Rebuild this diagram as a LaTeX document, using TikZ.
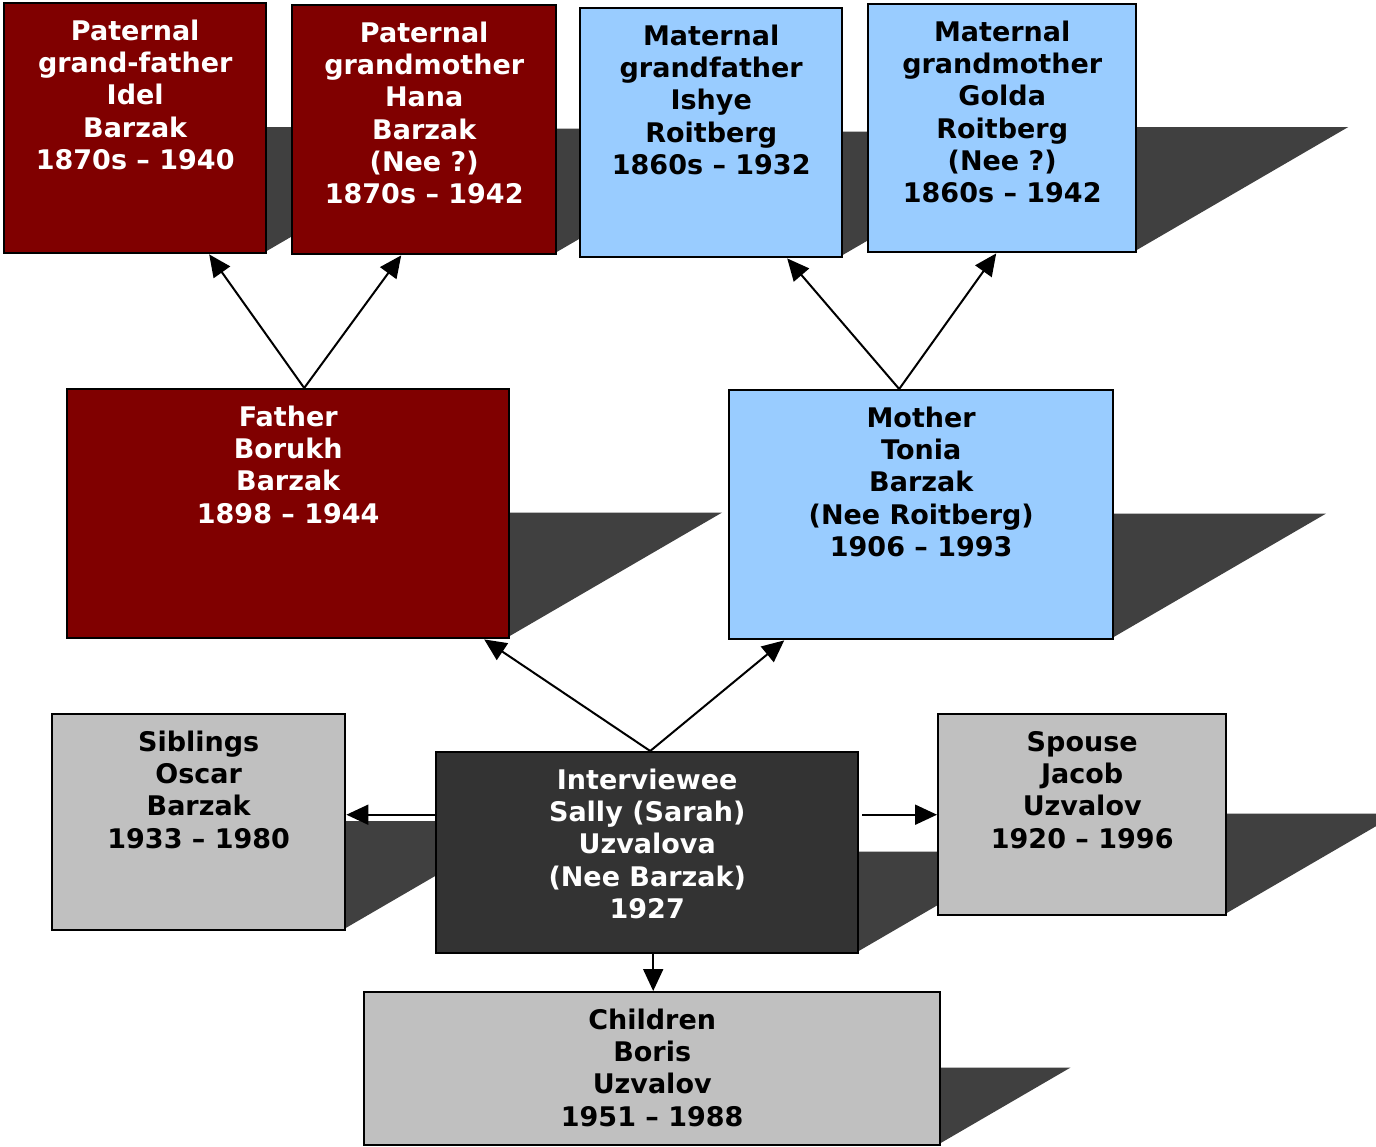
\documentclass[tikz,border=0pt]{standalone}
\usepackage{fontspec}
\setmainfont{DejaVu Sans}
\usetikzlibrary{arrows.meta,calc}
\pgfdeclarelayer{bg}
\pgfsetlayers{bg,main}
\definecolor{dred}{HTML}{800000}
\definecolor{lblue}{HTML}{99CCFF}
\definecolor{lgray}{HTML}{C0C0C0}
\definecolor{dgray}{HTML}{333333}
\definecolor{shadowc}{HTML}{404040}
\tikzset{
  famcard/.style={draw=black, line width=2.4pt, inner sep=0pt, anchor=north west},
  cardtext/.style={anchor=north, inner sep=0pt, align=center,
    font=\fontsize{27}{32.3}\selectfont\bfseries},
  arr/.style={line width=2pt, -{Triangle[length=22pt,width=20pt]}},
}
% #1 name, #2 left, #3 top, #4 right, #5 bottom, #6 fill, #7 text colour, #8 text
\newcommand\personcard[8]{%
  \begin{pgfonlayer}{bg}
    \fill[shadowc] ({#2+((#5)-(#3))*0.86},{((#3)+(#5))/2})
      -- ({#4+((#5)-(#3))*0.86},{((#3)+(#5))/2})
      -- (#4,#5) -- (#2,#5) -- cycle;
  \end{pgfonlayer}
  \node[famcard, fill=#6, minimum width={(#4)-(#2)}, minimum height={(#5)-(#3)}] (#1) at (#2,#3) {};
  \node[cardtext, text=#7] at ([yshift=-17pt]#1.north) {\rule{0pt}{21pt}#8};
}
\begin{document}
\begin{tikzpicture}[x=1pt,y=-1pt]
\begin{pgfonlayer}{bg}
  \fill[white] (0,0) rectangle (1376,1146);
\end{pgfonlayer}
\useasboundingbox (0,0) rectangle (1376,1146);

\personcard{pgf}{3}{2}{265}{252}{dred}{white}{Paternal\\grand-father\\Idel\\Barzak\\1870s -- 1940}
\personcard{pgm}{291}{4}{555}{253}{dred}{white}{Paternal\\grandmother\\Hana\\Barzak\\(Nee ?)\\1870s -- 1942}
\personcard{mgf}{579}{7}{841}{256}{lblue}{black}{Maternal\\grandfather\\Ishye\\Roitberg\\1860s -- 1932}
\personcard{mgm}{867}{3}{1135}{251}{lblue}{black}{Maternal\\grandmother\\Golda\\Roitberg\\(Nee ?)\\1860s -- 1942}
\personcard{father}{66}{388}{508}{637}{dred}{white}{Father\\Borukh\\Barzak\\1898 -- 1944}
\personcard{mother}{728}{389}{1112}{638}{lblue}{black}{Mother\\Tonia\\Barzak\\(Nee Roitberg)\\1906 -- 1993}
\personcard{sib}{51}{713}{344}{929}{lgray}{black}{Siblings\\Oscar\\Barzak\\1933 -- 1980}
\personcard{intv}{435}{751}{857}{952}{dgray}{white}{Interviewee\\Sally (Sarah)\\Uzvalova\\(Nee Barzak)\\1927}
\personcard{spouse}{937}{713}{1225}{914}{lgray}{black}{Spouse\\Jacob\\Uzvalov\\1920 -- 1996}
\personcard{child}{363}{991}{939}{1144}{lgray}{black}{Children\\Boris\\Uzvalov\\1951 -- 1988}

\draw[arr] ([xshift=16pt]father.north) -- ([xshift=74pt]pgf.south);
\draw[arr] ([xshift=16pt]father.north) -- ([xshift=-23pt]pgm.south);
\draw[arr] ([xshift=-22pt]mother.north) -- ([xshift=76pt]mgf.south);
\draw[arr] ([xshift=-22pt]mother.north) -- ([xshift=-6pt]mgm.south);
\draw[arr] ([xshift=3pt]intv.north) -- ([xshift=196pt]father.south);
\draw[arr] ([xshift=3pt]intv.north) -- ([xshift=-137pt]mother.south);
\draw[arr] ([yshift=38pt]intv.west) -- ([yshift=38pt]intv.west -| sib.east);
\draw[arr] ([shift={(3pt,38pt)}]intv.east) -- ([yshift=38pt]intv.east -| spouse.west);
\draw[arr] ([xshift=6pt]intv.south) -- ([xshift=6pt]intv.south |- child.north);
\end{tikzpicture}
\end{document}
